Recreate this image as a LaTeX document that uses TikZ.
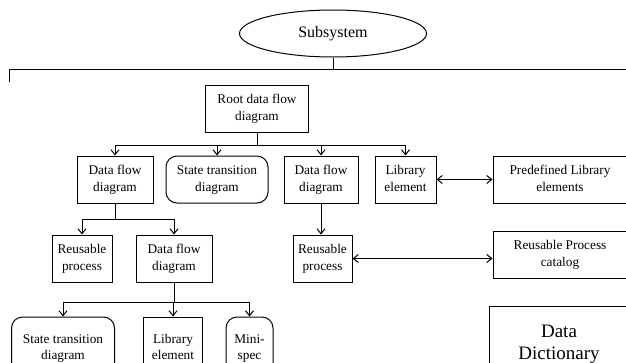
\documentclass[tikz,border=0pt]{standalone}
\usepackage{fontspec}
\setmainfont{Liberation Serif}
\usetikzlibrary{arrows.meta,shapes.geometric}
\begin{document}
\begin{tikzpicture}[x=1pt,y=-1pt,line width=1pt,
  box/.style={draw,inner sep=0pt,align=center,font=\fontsize{13.3}{16.5}\selectfont,minimum height=47pt},
  rbox/.style={box,rounded corners=11pt},
  arr/.style={-{Straight Barb[length=5pt,width=8pt]}},
  darr/.style={{Straight Barb[length=5pt,width=8pt]}-{Straight Barb[length=5pt,width=8pt]}}]
\useasboundingbox (0,0) rectangle (626,362);
\clip (0,0) rectangle (626,362);
% top
\node[draw,ellipse,inner sep=0pt,minimum width=187pt,minimum height=47pt,font=\fontsize{16}{19}\selectfont] (sub) at (333,33.5) {Subsystem};
\coordinate (barL) at (9,82);
\coordinate (barR) at (630,69);
\draw (barL) |- (barR);
\draw (sub.south) -- (sub.south |- barR);
% nodes
\node[box,minimum width=103pt] (root) at (257,108.5) {Root data flow\strut\\diagram\strut};
\node[box,minimum width=76pt] (dfd1) at (115,179.5) {Data flow\strut\\diagram\strut};
\node[rbox,minimum width=102pt] (st1) at (217,179.5) {State transition\strut\\diagram\strut};
\node[box,minimum width=74pt] (dfd3) at (321,179.5) {Data flow\strut\\diagram\strut};
\node[box,minimum width=61pt] (lib1) at (405.5,179.5) {Library\strut\\element\strut};
\node[box,minimum width=134pt] (pre) at (560,179.5) {Predefined Library\strut\\elements\strut};
\node[box,minimum width=60pt] (reu1) at (82,258.5) {Reusable\strut\\process\strut};
\node[box,minimum width=76pt] (dfd2) at (174,258.5) {Data flow\strut\\diagram\strut};
\node[box,minimum width=59pt] (reu3) at (322.5,258.5) {Reusable\strut\\process\strut};
\node[box,minimum width=134pt] (cat) at (560,254.5) {Reusable Process\strut\\catalog\strut};
\node[rbox,minimum width=103pt,minimum height=62pt] (st2) at (63,348) {State transition\strut\\diagram\strut};
\node[box,minimum width=59pt,minimum height=62pt] (lib2) at (173,348) {Library\strut\\element\strut};
\node[rbox,minimum width=47pt,minimum height=62pt] (mini) at (249.5,348) {Mini-\strut\\spec\strut};
\node[draw,inner sep=0pt,align=center,minimum width=140pt,minimum height=76pt,font=\fontsize{19}{22}\selectfont] (dd) at (559,344) {Data\\Dictionary};
% tree from root
\coordinate (j1) at (root.south |- 0,145);
\draw (root.south) -- (j1);
\draw (dfd1.north |- j1) -- (lib1.north |- j1);
\draw[arr] (dfd1.north |- j1) -- (dfd1.north);
\draw[arr] (st1.north |- j1) -- (st1.north);
\draw[arr] (dfd3.north |- j1) -- (dfd3.north);
\draw[arr] (lib1.north |- j1) -- (lib1.north);
% tree from dfd1
\coordinate (j2) at (dfd1.south |- 0,219);
\draw (dfd1.south) -- (j2);
\draw (reu1.north |- j2) -- (dfd2.north |- j2);
\draw[arr] (reu1.north |- j2) -- (reu1.north);
\draw[arr] (dfd2.north |- j2) -- (dfd2.north);
% tree from dfd2
\coordinate (j3) at (dfd2.south |- 0,302);
\draw (dfd2.south) -- (j3);
\draw (st2.north |- j3) -- (mini.north |- j3);
\draw[arr] (st2.north |- j3) -- (st2.north);
\draw[arr] (lib2.north |- j3) -- (lib2.north);
\draw[arr] (mini.north |- j3) -- (mini.north);
% dfd3 to reusable
\draw[arr] (dfd3.south) -- (dfd3.south |- reu3.north);
% links to catalogs
\draw[darr] (lib1.east) -- (pre.west);
\draw[darr] (reu3.east) -- (reu3.east -| cat.west);
\end{tikzpicture}
\end{document}
